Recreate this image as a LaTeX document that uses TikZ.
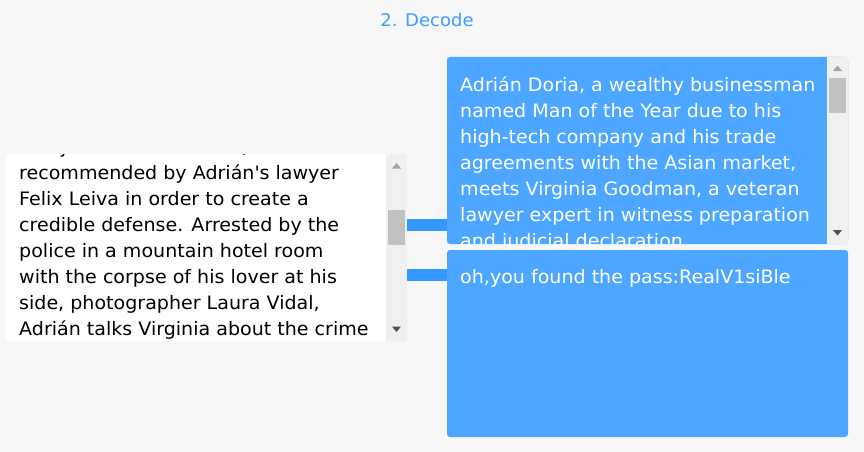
\documentclass[tikz,border=0pt]{standalone}
\usepackage{fontspec}
\setmainfont{DejaVu Sans}[FakeStretch=1.03]
\definecolor{bg}{HTML}{F7F7F7}
\definecolor{boxblue}{HTML}{4DA6FF}
\definecolor{barblue}{HTML}{3399FF}
\definecolor{titleblue}{HTML}{3F9BFF}
\definecolor{track}{HTML}{F0F0F0}
\definecolor{thumb}{HTML}{C1C1C1}
\definecolor{arrowdark}{HTML}{505050}
\definecolor{arrowlight}{HTML}{A3A3A3}
\begin{document}
\begin{tikzpicture}[x=1pt,y=-1pt,
  txt/.style={anchor=base west,inner sep=0pt,font=\fontsize{18.5}{26}\selectfont},
  panel/.style={inner sep=0pt,draw=none},
  bar/.style={draw=barblue,line width=12pt},
  sbtrack/.style={fill=track},
  sbthumb/.style={fill=thumb}]
\useasboundingbox[fill=bg] (0,0) rectangle (864,452);
% title
\node[anchor=base,inner sep=0pt,text=titleblue,font=\fontsize{17.5}{22}\selectfont] (title) at (427,27) {2. Decode};
% left panel
\node[panel,fill=white,minimum width=401pt,minimum height=187pt] (lbox) at (206.5,247.5) {};
\begin{scope}
\clip (6,154) rectangle (386,341);
\foreach \i/\t in {0/{and judicial declaration,},1/{recommended by Adrián\textquotesingle s lawyer},2/{Felix Leiva in order to create a},3/{credible defense. Arrested by the},4/{police in a mountain hotel room},5/{with the corpse of his lover at his},6/{side, photographer Laura Vidal,},7/{Adrián talks Virginia about the crime}}
  \node[txt,text=black] (l\i) at (19,153+26*\i) {\t};
\end{scope}
\fill[sbtrack] (386,154) rectangle (407,341);
\fill[sbthumb] (388,210) rectangle (405,245);
\fill[arrowlight] (396.5,163) -- (401,168.5) -- (392,168.5) -- cycle;
\fill[arrowdark] (396.5,332) -- (401,326.5) -- (392,326.5) -- cycle;
% top right panel
\node[panel,fill=boxblue,rounded corners=3pt,minimum width=401pt,minimum height=187pt] (tr) at (647.5,150.5) {};
\begin{scope}
\clip (447,57) rectangle (827,244);
\foreach \i/\t in {0/{Adrián Doria, a wealthy businessman},1/{named Man of the Year due to his},2/{high-tech company and his trade},3/{agreements with the Asian market,},4/{meets Virginia Goodman, a veteran},5/{lawyer expert in witness preparation},6/{and judicial declaration}}
  \node[txt,text=white] (r\i) at (460,91+26*\i) {\t};
\end{scope}
\fill[sbtrack] (827,57) rectangle (848,244);
\fill[sbthumb] (829,78) rectangle (846,113);
\fill[arrowlight] (837.5,65.5) -- (842,71) -- (833,71) -- cycle;
\fill[arrowdark] (837.5,235.5) -- (842,230) -- (833,230) -- cycle;
% bottom right panel
\node[panel,fill=boxblue,rounded corners=3pt,minimum width=401pt,minimum height=187pt] (br) at (647.5,343.5) {};
\node[txt,text=white] (pass) at (460,283) {oh,you found the pass:RealV1siBle};
% connectors
\draw[bar] (lbox.east |- 0,225) -- (tr.west |- 0,225);
\draw[bar] (lbox.east |- 0,275) -- (br.west |- 0,275);
\end{tikzpicture}
\end{document}
